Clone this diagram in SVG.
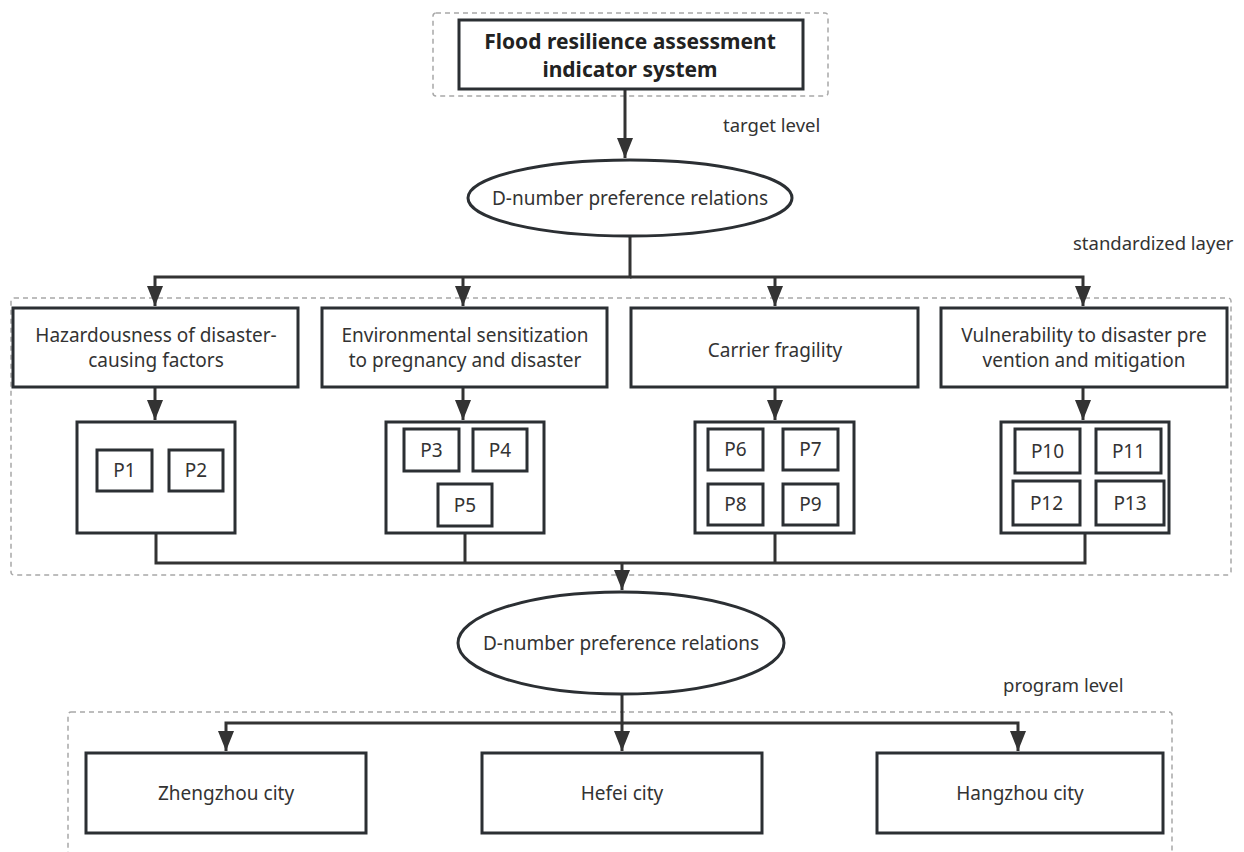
<svg xmlns="http://www.w3.org/2000/svg" width="1244" height="852" viewBox="0 0 1244 852">
<style>
.box{fill:#fff;stroke:#2b2f33;stroke-width:3}
.dash{fill:none;stroke:#a8a8a8;stroke-width:1.5;stroke-dasharray:5 4}
.ln{fill:none;stroke:#333;stroke-width:3}
.t{font-family:"Noto Sans","Open Sans",sans-serif;font-size:19px;fill:#333;text-anchor:middle}
.lab{font-family:"Noto Sans","Open Sans",sans-serif;font-size:18.5px;fill:#333}
.b{font-weight:bold;font-size:21px;fill:#222}
</style>
<defs>
<marker id="ah" markerUnits="userSpaceOnUse" markerWidth="20" markerHeight="16" refX="20" refY="8" orient="auto" viewBox="0 0 20 16">
<path d="M0,0 L20,8 L0,16 Z" fill="#333"/>
</marker>
</defs>
<rect class="dash" x="433" y="13" width="395" height="83" rx="3"/>
<rect class="dash" x="11" y="298" width="1220" height="277" rx="3"/>
<rect class="dash" x="68" y="712" width="1104" height="160" rx="3"/>
<text class="lab" x="723" y="132">target level</text>
<text class="lab" x="1073" y="250">standardized layer</text>
<text class="lab" x="1003" y="692">program level</text>
<g id="connectors">
<path class="ln" d="M625,89 V158" marker-end="url(#ah)"/>
<path class="ln" d="M630,236 V277 H155 V306" marker-end="url(#ah)"/>
<path class="ln" d="M463,277 V306" marker-end="url(#ah)"/>
<path class="ln" d="M630,277 H1083 V306" marker-end="url(#ah)"/>
<path class="ln" d="M775,277 V306" marker-end="url(#ah)"/>
<path class="ln" d="M155,387 V420" marker-end="url(#ah)"/>
<path class="ln" d="M463,387 V420" marker-end="url(#ah)"/>
<path class="ln" d="M775,387 V420" marker-end="url(#ah)"/>
<path class="ln" d="M1083,387 V420" marker-end="url(#ah)"/>
<path class="ln" d="M156,533 V563 H1085 V533"/>
<path class="ln" d="M465,533 V563"/>
<path class="ln" d="M775,533 V563"/>
<path class="ln" d="M622,563 V590" marker-end="url(#ah)"/>
<path class="ln" d="M622,695 V723 H226 V751" marker-end="url(#ah)"/>
<path class="ln" d="M622,723 V751" marker-end="url(#ah)"/>
<path class="ln" d="M622,723 H1018 V751" marker-end="url(#ah)"/>
</g>
<g id="title">
<rect class="box" x="459" y="20" width="344" height="69"/>
<text class="t b" x="630" y="49">Flood resilience assessment</text>
<text class="t b" x="630" y="77">indicator system</text>
</g>
<g id="dnum1">
<ellipse class="box" cx="630" cy="198" rx="162" ry="38"/>
<text class="t" x="630" y="205">D-number preference relations</text>
</g>
<g id="c1">
<rect class="box" x="13" y="308" width="285" height="79"/>
<text class="t" x="156" y="342">Hazardousness of disaster-</text>
<text class="t" x="156" y="367">causing factors</text>
</g>
<g id="c2">
<rect class="box" x="322" y="308" width="285" height="79"/>
<text class="t" x="465" y="342">Environmental sensitization</text>
<text class="t" x="465" y="367">to pregnancy and disaster</text>
</g>
<g id="c3">
<rect class="box" x="631" y="308" width="287" height="79"/>
<text class="t" x="775" y="357">Carrier fragility</text>
</g>
<g id="c4">
<rect class="box" x="941" y="308" width="286" height="79"/>
<text class="t" x="1084" y="342">Vulnerability to disaster pre</text>
<text class="t" x="1084" y="367">vention and mitigation</text>
</g>
<g id="g1">
<rect class="box" x="77" y="422" width="158" height="111"/>
<rect class="box" x="97" y="450" width="55" height="41"/>
<text class="t" x="124.5" y="477">P1</text>
<rect class="box" x="169" y="450" width="54" height="41"/>
<text class="t" x="196" y="477">P2</text>
</g>
<g id="g2">
<rect class="box" x="386" y="422" width="158" height="111"/>
<rect class="box" x="404" y="429" width="55" height="42"/>
<text class="t" x="431.5" y="457">P3</text>
<rect class="box" x="473" y="429" width="54" height="42"/>
<text class="t" x="500" y="457">P4</text>
<rect class="box" x="438" y="484" width="54" height="42"/>
<text class="t" x="465" y="512">P5</text>
</g>
<g id="g3">
<rect class="box" x="695" y="422" width="159" height="111"/>
<rect class="box" x="708" y="429" width="55" height="41"/>
<text class="t" x="735.5" y="456">P6</text>
<rect class="box" x="783" y="429" width="55" height="41"/>
<text class="t" x="810.5" y="456">P7</text>
<rect class="box" x="708" y="484" width="55" height="41"/>
<text class="t" x="735.5" y="511">P8</text>
<rect class="box" x="783" y="484" width="55" height="41"/>
<text class="t" x="810.5" y="511">P9</text>
</g>
<g id="g4">
<rect class="box" x="1001" y="422" width="168" height="111"/>
<rect class="box" x="1015" y="429" width="65" height="44"/>
<text class="t" x="1047.5" y="458">P10</text>
<rect class="box" x="1096" y="429" width="65" height="44"/>
<text class="t" x="1128.5" y="458">P11</text>
<rect class="box" x="1013" y="481" width="67" height="44"/>
<text class="t" x="1046.5" y="510">P12</text>
<rect class="box" x="1096" y="481" width="68" height="44"/>
<text class="t" x="1130" y="510">P13</text>
</g>
<g id="dnum2">
<ellipse class="box" cx="621" cy="643" rx="163" ry="51"/>
<text class="t" x="621" y="650">D-number preference relations</text>
</g>
<g id="zhengzhou">
<rect class="box" x="86" y="753" width="280" height="80"/>
<text class="t" x="226" y="800">Zhengzhou city</text>
</g>
<g id="hefei">
<rect class="box" x="482" y="753" width="280" height="80"/>
<text class="t" x="622" y="800">Hefei city</text>
</g>
<g id="hangzhou">
<rect class="box" x="877" y="753" width="286" height="80"/>
<text class="t" x="1020" y="800">Hangzhou city</text>
</g>
</svg>
